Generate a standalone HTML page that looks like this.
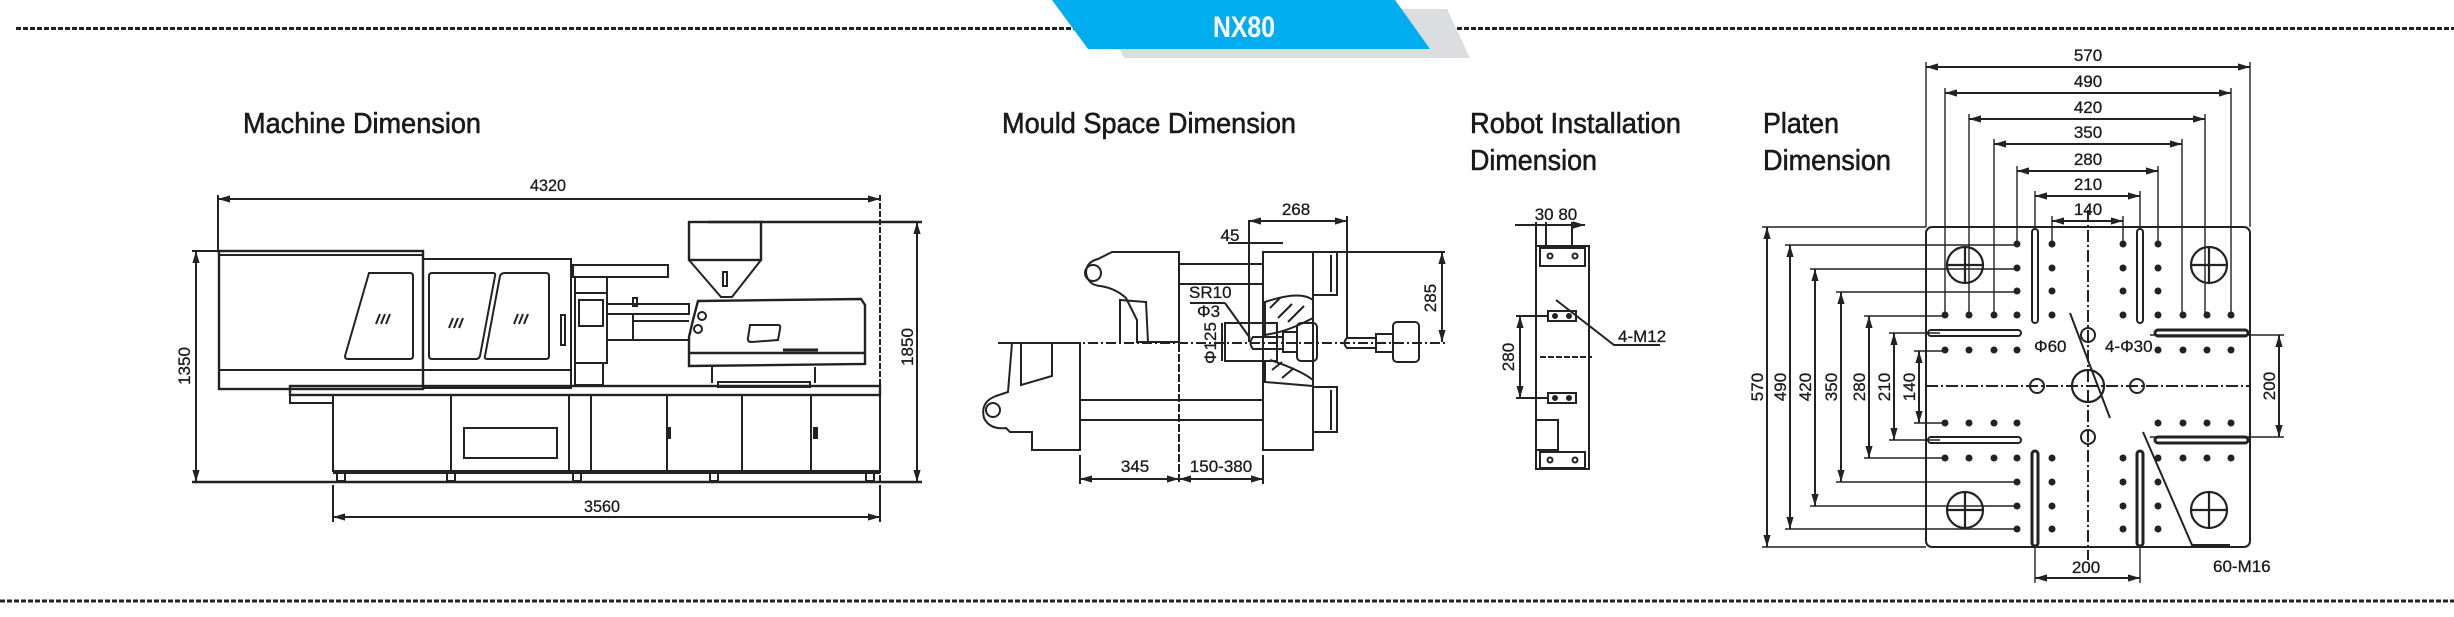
<!DOCTYPE html>
<html><head><meta charset="utf-8"><style>
html,body{margin:0;padding:0;background:#fff;}
svg{display:block}
text{font-family:"Liberation Sans",sans-serif;fill:#1a1a1a}
.t{font-size:29px;stroke:#1a1a1a;stroke-width:0.6}
.d{font-size:17px;stroke:#1a1a1a;stroke-width:0.3}
</style></head><body>
<svg width="2454" height="617" viewBox="0 0 2454 617" xmlns="http://www.w3.org/2000/svg">
<defs>
<marker id="a" viewBox="0 0 10 10" refX="10" refY="5" markerWidth="6" markerHeight="6" orient="auto-start-reverse"><path d="M0,2 L10,5 L0,8 z" fill="#222"/></marker>
</defs>
<g stroke="#222" stroke-width="3" stroke-dasharray="5 2">
<line x1="16" y1="28.5" x2="1074" y2="28.5"/>
<line x1="1415" y1="28.5" x2="2454" y2="28.5"/>
<line x1="0" y1="601" x2="2454" y2="601"/>
</g>
<polygon points="1100,9 1447,9 1470,58 1124,58" fill="#dcdde0"/>
<polygon points="1052,0 1395,0 1430,49 1088,49" fill="#00aeef"/>
<text x="1244" y="37" font-size="30" font-weight="bold" text-anchor="middle" style="fill:#fff" textLength="62" lengthAdjust="spacingAndGlyphs">NX80</text>
<text class="t" x="243" y="133" textLength="238" lengthAdjust="spacingAndGlyphs">Machine Dimension</text>
<text class="t" x="1002" y="133" textLength="294" lengthAdjust="spacingAndGlyphs">Mould Space Dimension</text>
<text class="t" x="1470" y="133" textLength="211" lengthAdjust="spacingAndGlyphs">Robot Installation</text>
<text class="t" x="1470" y="170" textLength="127" lengthAdjust="spacingAndGlyphs">Dimension</text>
<text class="t" x="1763" y="133" textLength="76" lengthAdjust="spacingAndGlyphs">Platen</text>
<text class="t" x="1763" y="170" textLength="128" lengthAdjust="spacingAndGlyphs">Dimension</text>

<g fill="none" stroke="#222" stroke-width="2">
<line x1="218" y1="199" x2="880" y2="199" marker-start="url(#a)" marker-end="url(#a)"/>
<line x1="218" y1="195" x2="218" y2="252"/>
<line x1="880" y1="195" x2="880" y2="482" stroke-dasharray="6 2"/>
<rect x="219" y="251" width="204" height="138" stroke-width="2.4"/>
<line x1="219" y1="255" x2="423" y2="255"/>
<rect x="423" y="259" width="148" height="129"/>
<line x1="219" y1="370" x2="571" y2="370"/>
<path d="M369,273 L410,273 Q413,273 413,276 L413,356 Q413,359 410,359 L348,359 Q345,359 345,356 Z"/>
<path d="M432,273 L493,273 Q496,273 495,276 L480,356 Q479,359 476,359 L432,359 Q429,359 429,356 L429,276 Q429,273 432,273Z"/>
<path d="M505,273 L546,273 Q549,273 549,276 L549,356 Q549,359 546,359 L487,359 Q484,359 485,356 L500,276 Q501,273 505,273Z"/>
<path d="M380,314 l-4,10 M385,314 l-4,10 M390,314 l-4,10 M453,318 l-4,10 M458,318 l-4,10 M463,318 l-4,10 M518,314 l-4,10 M523,314 l-4,10 M528,314 l-4,10"/>
<rect x="561" y="315" width="4" height="30"/>
<rect x="573" y="265" width="95" height="12"/>
<rect x="575" y="277" width="32" height="16"/>
<rect x="575" y="293" width="32" height="70"/>
<rect x="579" y="300" width="24" height="26"/>
<rect x="607" y="304" width="82" height="10"/>
<rect x="607" y="314" width="26" height="26"/>
<line x1="633" y1="321" x2="689" y2="321"/>
<line x1="633" y1="340" x2="689" y2="340"/>
<rect x="633" y="298" width="4" height="8"/>
<rect x="575" y="363" width="28" height="22"/>
<rect x="689" y="222" width="72" height="38" stroke-width="2.4"/>
<path d="M689,260 L721,297 L732,297 L761,260"/>
<rect x="723" y="272" width="4" height="14"/>
<path d="M698,301 L861,299 L865,305 L865,364 L689,366 L689,337 L693,320 Z" stroke-width="2.4"/>
<line x1="689" y1="353" x2="865" y2="353" stroke-width="2.4"/>
<circle cx="702" cy="316" r="4"/><circle cx="698" cy="329" r="4"/>
<path d="M750,325 L778,325 Q781,325 780,329 L778,340 L752,342 Q747,342 748,338Z"/>
<line x1="783" y1="350" x2="818" y2="350" stroke-width="3"/>
<line x1="712" y1="367" x2="712" y2="383"/><line x1="815" y1="367" x2="815" y2="383"/>
<rect x="718" y="382" width="92" height="5"/>
<rect x="290" y="386" width="590" height="9" stroke-width="2.4"/>
<path d="M290,395 L290,403 L333,403"/>
<rect x="333" y="395" width="547" height="76"/>
<line x1="451" y1="395" x2="451" y2="471"/><line x1="569" y1="395" x2="569" y2="471"/><line x1="591" y1="395" x2="591" y2="471"/><line x1="667" y1="395" x2="667" y2="471"/><line x1="742" y1="395" x2="742" y2="471"/><line x1="811" y1="395" x2="811" y2="471"/>
<rect x="464" y="428" width="93" height="30"/>
<rect x="667" y="428" width="3" height="10" fill="#222"/><rect x="814" y="428" width="3" height="10" fill="#222"/>
<line x1="333" y1="473" x2="880" y2="473"/>
<path d="M337,473 v8 h8 v-8 M447,473 v8 h8 v-8 M573,473 v8 h8 v-8 M710,473 v8 h8 v-8 M866,473 v8 h8 v-8"/>
<line x1="192" y1="482" x2="922" y2="482" stroke-width="2.4"/>
<line x1="192" y1="251" x2="219" y2="251"/>
<line x1="196" y1="251" x2="196" y2="482" marker-start="url(#a)" marker-end="url(#a)"/>
<line x1="708" y1="222" x2="922" y2="222" stroke-width="2.4"/>
<line x1="917" y1="222" x2="917" y2="482" marker-start="url(#a)" marker-end="url(#a)"/>
<line x1="333" y1="485" x2="333" y2="522"/><line x1="880" y1="485" x2="880" y2="522"/>
<line x1="333" y1="517" x2="880" y2="517" marker-start="url(#a)" marker-end="url(#a)"/>

<path d="M1112,252 L1179,252 L1179,342 L1137,342 L1137,320 L1126,298 Q1115,288 1100,286 Q1088,285 1086,273 Q1086,262 1098,259 Z"/>
<circle cx="1093" cy="273" r="8"/>
<path d="M1120,342 L1120,300 L1146,302 L1148,342"/>
<path d="M998,343 L1080,343 L1080,450 L1032,450 L1032,432 L1010,432 L1006,428 Q990,430 984,418 Q980,402 996,396 L1008,392 L1012,343"/>
<circle cx="993" cy="410" r="7"/>
<path d="M1021,343 L1021,385 L1052,376 L1052,343"/>
<line x1="1080" y1="343" x2="1080" y2="450"/>
<line x1="1179" y1="264" x2="1263" y2="264"/><line x1="1179" y1="284" x2="1263" y2="284"/>
<line x1="1080" y1="400" x2="1263" y2="400"/><line x1="1080" y1="420" x2="1263" y2="420"/>
<line x1="1179" y1="264" x2="1179" y2="483" stroke-dasharray="8 2"/>
<line x1="1249" y1="220" x2="1249" y2="342"/>
<rect x="1263" y="252" width="50" height="198"/>
<rect x="1313" y="252" width="24" height="43"/><line x1="1331" y1="255" x2="1331" y2="292"/>
<rect x="1313" y="387" width="24" height="45"/><line x1="1331" y1="390" x2="1331" y2="430"/>
<rect x="1225" y="323" width="52" height="38"/>
<path d="M1265,302 Q1300,290 1313,300 L1313,318 Q1290,330 1275,333 L1265,335Z"/>
<path d="M1270,308 l10,-10 M1278,318 l14,-14 M1288,322 l16,-16 M1270,360 Q1300,370 1313,380 L1313,386 L1265,382 L1265,360 M1272,370 l10,-8 M1282,378 l12,-10"/>
<rect x="1297" y="323" width="20" height="38" rx="4"/><rect x="1283" y="332" width="14" height="20"/>
<path d="M1253,337 L1283,337 L1283,349 L1253,349 Q1248,343 1253,337Z"/>
<rect x="1393" y="322" width="26" height="40" rx="4"/><rect x="1376" y="334" width="17" height="18"/>
<path d="M1347,338 L1376,338 L1376,348 L1347,348 Q1342,343 1347,338Z"/>
<line x1="998" y1="343" x2="1445" y2="343" stroke-dasharray="10 3 2 3"/>
<line x1="1249" y1="221" x2="1347" y2="221" marker-start="url(#a)" marker-end="url(#a)"/>
<line x1="1347" y1="216" x2="1347" y2="338"/>
<line x1="1228" y1="243" x2="1283" y2="243"/>
<line x1="1313" y1="252" x2="1445" y2="252"/>
<line x1="1442" y1="252" x2="1442" y2="342" marker-start="url(#a)" marker-end="url(#a)"/>
<line x1="1080" y1="455" x2="1080" y2="484"/><line x1="1263" y1="455" x2="1263" y2="484"/>
<line x1="1080" y1="479" x2="1179" y2="479" marker-start="url(#a)" marker-end="url(#a)"/>
<line x1="1179" y1="479" x2="1263" y2="479" marker-start="url(#a)" marker-end="url(#a)"/>
<line x1="1190" y1="303" x2="1225" y2="303"/><line x1="1225" y1="303" x2="1250" y2="338"/>
<line x1="1222" y1="323" x2="1222" y2="361"/>

<line x1="1515" y1="225" x2="1585" y2="225" marker-end="url(#a)"/>
<line x1="1536" y1="222" x2="1536" y2="246"/><line x1="1546" y1="222" x2="1546" y2="246"/><line x1="1572" y1="222" x2="1572" y2="246"/>
<rect x="1536" y="246" width="53" height="223"/>
<rect x="1540" y="248" width="45" height="18"/><circle cx="1550" cy="256" r="2.5"/><circle cx="1575" cy="256" r="2.5"/>
<rect x="1548" y="311" width="28" height="10"/><circle cx="1555" cy="316" r="2" fill="#222"/><circle cx="1569" cy="316" r="2" fill="#222"/>
<rect x="1548" y="393" width="28" height="10"/><circle cx="1555" cy="398" r="2" fill="#222"/><circle cx="1569" cy="398" r="2" fill="#222"/>
<rect x="1536" y="420" width="22" height="30"/>
<rect x="1540" y="452" width="45" height="16"/><circle cx="1550" cy="460" r="2.5"/><circle cx="1575" cy="460" r="2.5"/>
<line x1="1516" y1="316" x2="1548" y2="316"/><line x1="1516" y1="398" x2="1548" y2="398"/>
<line x1="1520" y1="316" x2="1520" y2="398" marker-start="url(#a)" marker-end="url(#a)"/>
<line x1="1540" y1="357" x2="1592" y2="357" stroke-dasharray="6 2"/>
<path d="M1556,300 L1614,345 L1660,345"/>

<rect x="1926" y="227" width="324" height="320" rx="6"/>
<line x1="1926" y1="67" x2="2250" y2="67" marker-start="url(#a)" marker-end="url(#a)"/>
<line x1="1945" y1="93" x2="2231" y2="93" marker-start="url(#a)" marker-end="url(#a)"/>
<line x1="1969" y1="119" x2="2205" y2="119" marker-start="url(#a)" marker-end="url(#a)"/>
<line x1="1994" y1="144" x2="2182" y2="144" marker-start="url(#a)" marker-end="url(#a)"/>
<line x1="2017" y1="171" x2="2158" y2="171" marker-start="url(#a)" marker-end="url(#a)"/>
<line x1="2035" y1="196" x2="2140" y2="196" marker-start="url(#a)" marker-end="url(#a)"/>
<line x1="2052" y1="221" x2="2123" y2="221" marker-start="url(#a)" marker-end="url(#a)"/>
<g stroke-width="1.4">
<line x1="1926" y1="62" x2="1926" y2="227"/><line x1="2250" y1="62" x2="2250" y2="227"/>
<line x1="1945" y1="88" x2="1945" y2="315"/><line x1="2231" y1="88" x2="2231" y2="315"/>
<line x1="1969" y1="114" x2="1969" y2="315"/><line x1="2205" y1="114" x2="2205" y2="315"/>
<line x1="1994" y1="139" x2="1994" y2="315"/><line x1="2182" y1="139" x2="2182" y2="315"/>
<line x1="2017" y1="166" x2="2017" y2="244"/><line x1="2158" y1="166" x2="2158" y2="244"/>
<line x1="2035" y1="191" x2="2035" y2="227"/><line x1="2140" y1="191" x2="2140" y2="227"/>
<line x1="2052" y1="216" x2="2052" y2="244"/><line x1="2123" y1="216" x2="2123" y2="244"/>
<line x1="1762" y1="227" x2="1926" y2="227"/><line x1="1762" y1="547" x2="1926" y2="547"/>
<line x1="1785" y1="245" x2="2017" y2="245"/><line x1="1785" y1="529" x2="2017" y2="529"/>
<line x1="1810" y1="269" x2="2017" y2="269"/><line x1="1810" y1="506" x2="2017" y2="506"/>
<line x1="1836" y1="292" x2="2017" y2="292"/><line x1="1836" y1="482" x2="2017" y2="482"/>
<line x1="1864" y1="316" x2="1945" y2="316"/><line x1="1864" y1="458" x2="1945" y2="458"/>
<line x1="1889" y1="333" x2="1940" y2="333"/><line x1="1889" y1="440" x2="1940" y2="440"/>
<line x1="1914" y1="351" x2="1945" y2="351"/><line x1="1914" y1="423" x2="1945" y2="423"/>
<line x1="2150" y1="335" x2="2284" y2="335"/><line x1="2150" y1="437" x2="2284" y2="437"/>
<line x1="2035" y1="547" x2="2035" y2="583"/><line x1="2140" y1="547" x2="2140" y2="583"/>
</g>
<line x1="1767" y1="227" x2="1767" y2="547" marker-start="url(#a)" marker-end="url(#a)"/>
<line x1="1790" y1="245" x2="1790" y2="529" marker-start="url(#a)" marker-end="url(#a)"/>
<line x1="1815" y1="269" x2="1815" y2="506" marker-start="url(#a)" marker-end="url(#a)"/>
<line x1="1841" y1="292" x2="1841" y2="482" marker-start="url(#a)" marker-end="url(#a)"/>
<line x1="1869" y1="316" x2="1869" y2="458" marker-start="url(#a)" marker-end="url(#a)"/>
<line x1="1894" y1="333" x2="1894" y2="440" marker-start="url(#a)" marker-end="url(#a)"/>
<line x1="1919" y1="351" x2="1919" y2="423" marker-start="url(#a)" marker-end="url(#a)"/>
<line x1="2279" y1="335" x2="2279" y2="437" marker-start="url(#a)" marker-end="url(#a)"/>
<line x1="2035" y1="578" x2="2140" y2="578" marker-start="url(#a)" marker-end="url(#a)"/>
<rect x="2032" y="229" width="6" height="94" rx="3" stroke-width="2"/>
<rect x="2137" y="229" width="6" height="94" rx="3" stroke-width="2"/>
<rect x="2032" y="451" width="6" height="95" rx="3" stroke-width="3"/>
<rect x="2137" y="451" width="6" height="95" rx="3" stroke-width="3"/>
<rect x="1928" y="330" width="93" height="6" rx="3" stroke-width="2"/>
<rect x="1928" y="437" width="93" height="6" rx="3" stroke-width="2"/>
<rect x="2155" y="330" width="93" height="6" rx="3" stroke-width="3"/>
<rect x="2155" y="437" width="93" height="6" rx="3" stroke-width="3"/>
<g stroke-width="2.2">
<circle cx="1965" cy="265" r="18"/><path d="M1947,265 h36 M1965,247 v36"/>
<circle cx="2209" cy="265" r="18"/><path d="M2191,265 h36 M2209,247 v36"/>
<circle cx="1965" cy="510" r="18"/><path d="M1947,510 h36 M1965,492 v36"/>
<circle cx="2209" cy="510" r="18"/><path d="M2191,510 h36 M2209,492 v36"/>
<circle cx="2088" cy="386" r="16"/>
</g>
<circle cx="2088" cy="335" r="7"/><circle cx="2088" cy="437" r="7"/><circle cx="2037" cy="386" r="7"/><circle cx="2137" cy="386" r="7"/>
<line x1="1926" y1="386" x2="2250" y2="386" stroke-dasharray="12 3 2 3"/>
<line x1="2088" y1="210" x2="2088" y2="560" stroke-dasharray="12 3 2 3"/>
<line x1="2070" y1="313" x2="2110" y2="418"/>
<path d="M2143,432 L2192,545 L2230,545"/>
</g>
<g fill="#222">
<circle cx="2017" cy="244" r="3.5"/><circle cx="2052" cy="244" r="3.5"/><circle cx="2123" cy="244" r="3.5"/><circle cx="2158" cy="244" r="3.5"/>
<circle cx="2017" cy="268" r="3.5"/><circle cx="2052" cy="268" r="3.5"/><circle cx="2123" cy="268" r="3.5"/><circle cx="2158" cy="268" r="3.5"/>
<circle cx="2017" cy="291" r="3.5"/><circle cx="2052" cy="291" r="3.5"/><circle cx="2123" cy="291" r="3.5"/><circle cx="2158" cy="291" r="3.5"/>
<circle cx="1945" cy="315" r="3.5"/><circle cx="1969" cy="315" r="3.5"/><circle cx="1994" cy="315" r="3.5"/><circle cx="2017" cy="315" r="3.5"/><circle cx="2052" cy="315" r="3.5"/><circle cx="2123" cy="315" r="3.5"/><circle cx="2158" cy="315" r="3.5"/><circle cx="2183" cy="315" r="3.5"/><circle cx="2207" cy="315" r="3.5"/><circle cx="2231" cy="315" r="3.5"/>
<circle cx="1945" cy="350" r="3.5"/><circle cx="1969" cy="350" r="3.5"/><circle cx="1994" cy="350" r="3.5"/><circle cx="2017" cy="350" r="3.5"/><circle cx="2158" cy="350" r="3.5"/><circle cx="2183" cy="350" r="3.5"/><circle cx="2207" cy="350" r="3.5"/><circle cx="2231" cy="350" r="3.5"/>
<circle cx="1945" cy="423" r="3.5"/><circle cx="1969" cy="423" r="3.5"/><circle cx="1994" cy="423" r="3.5"/><circle cx="2017" cy="423" r="3.5"/><circle cx="2158" cy="423" r="3.5"/><circle cx="2183" cy="423" r="3.5"/><circle cx="2207" cy="423" r="3.5"/><circle cx="2231" cy="423" r="3.5"/>
<circle cx="1945" cy="458" r="3.5"/><circle cx="1969" cy="458" r="3.5"/><circle cx="1994" cy="458" r="3.5"/><circle cx="2017" cy="458" r="3.5"/><circle cx="2052" cy="458" r="3.5"/><circle cx="2123" cy="458" r="3.5"/><circle cx="2158" cy="458" r="3.5"/><circle cx="2183" cy="458" r="3.5"/><circle cx="2207" cy="458" r="3.5"/><circle cx="2231" cy="458" r="3.5"/>
<circle cx="2017" cy="482" r="3.5"/><circle cx="2052" cy="482" r="3.5"/><circle cx="2123" cy="482" r="3.5"/><circle cx="2158" cy="482" r="3.5"/>
<circle cx="2017" cy="506" r="3.5"/><circle cx="2052" cy="506" r="3.5"/><circle cx="2123" cy="506" r="3.5"/><circle cx="2158" cy="506" r="3.5"/>
<circle cx="2017" cy="529" r="3.5"/><circle cx="2052" cy="529" r="3.5"/><circle cx="2123" cy="529" r="3.5"/><circle cx="2158" cy="529" r="3.5"/>
</g>
<g class="d">
<text x="548" y="191" text-anchor="middle" textLength="36" lengthAdjust="spacingAndGlyphs">4320</text>
<text x="602" y="512" text-anchor="middle" textLength="36" lengthAdjust="spacingAndGlyphs">3560</text>
<text transform="translate(190,366) rotate(-90)" text-anchor="middle">1350</text>
<text transform="translate(913,347) rotate(-90)" text-anchor="middle">1850</text>
<text x="1296" y="215" text-anchor="middle">268</text>
<text x="1230" y="241" text-anchor="middle">45</text>
<text transform="translate(1436,298) rotate(-90)" text-anchor="middle">285</text>
<text x="1189" y="298">SR10</text>
<text x="1197" y="317">Φ3</text>
<text transform="translate(1216,343) rotate(-90)" text-anchor="middle">Φ125</text>
<text x="1135" y="472" text-anchor="middle">345</text>
<text x="1221" y="472" text-anchor="middle">150-380</text>
<text x="1556" y="220" text-anchor="middle">30 80</text>
<text transform="translate(1514,357) rotate(-90)" text-anchor="middle">280</text>
<text x="1618" y="342">4-M12</text>
<text x="2088" y="61" text-anchor="middle">570</text>
<text x="2088" y="87" text-anchor="middle">490</text>
<text x="2088" y="113" text-anchor="middle">420</text>
<text x="2088" y="138" text-anchor="middle">350</text>
<text x="2088" y="165" text-anchor="middle">280</text>
<text x="2088" y="190" text-anchor="middle">210</text>
<text x="2088" y="215" text-anchor="middle">140</text>
<text transform="translate(1763,387) rotate(-90)" text-anchor="middle">570</text>
<text transform="translate(1786,387) rotate(-90)" text-anchor="middle">490</text>
<text transform="translate(1811,387) rotate(-90)" text-anchor="middle">420</text>
<text transform="translate(1837,387) rotate(-90)" text-anchor="middle">350</text>
<text transform="translate(1865,387) rotate(-90)" text-anchor="middle">280</text>
<text transform="translate(1890,387) rotate(-90)" text-anchor="middle">210</text>
<text transform="translate(1915,387) rotate(-90)" text-anchor="middle">140</text>
<text transform="translate(2275,386) rotate(-90)" text-anchor="middle">200</text>
<text x="2086" y="573" text-anchor="middle">200</text>
<text x="2213" y="572">60-M16</text>
<text x="2034" y="352">Φ60</text>
<text x="2105" y="352">4-Φ30</text>
</g>
</svg>
</body></html>
